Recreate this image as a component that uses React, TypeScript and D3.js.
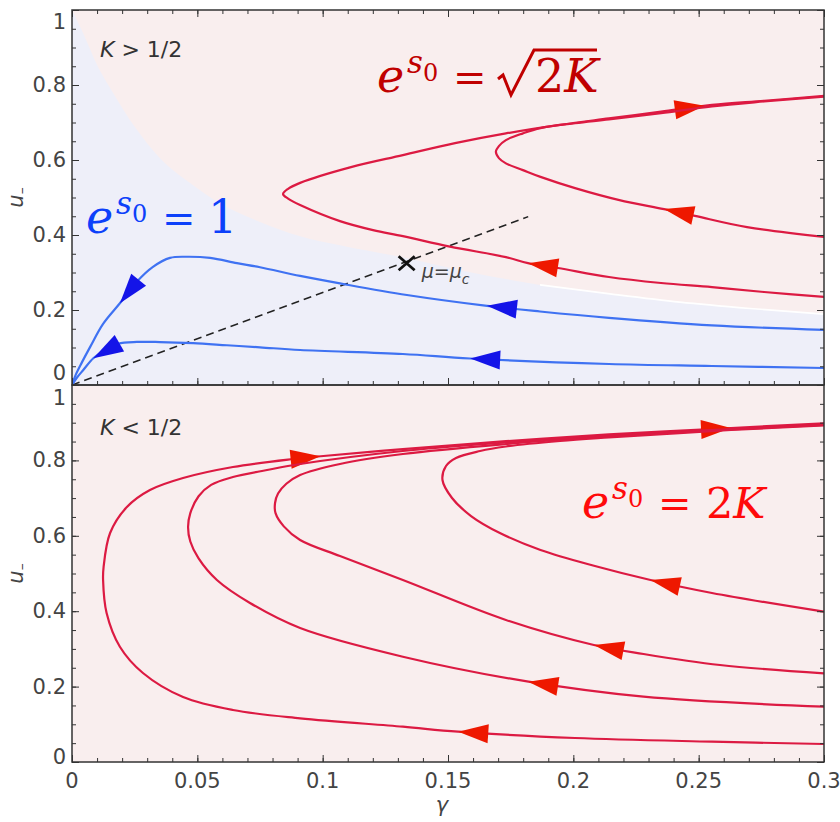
import React, { useRef, useEffect } from 'react';
import * as d3 from 'd3';

type Pt = [number, number];

// axis ticks
const xTicks = [0, 0.05, 0.1, 0.15, 0.2, 0.25, 0.3];
const xTickLabels = ['0', '0.05', '0.1', '0.15', '0.2', '0.25', '0.3'];
const yTicks = [0, 0.2, 0.4, 0.6, 0.8, 1];
const yTickLabels = ['0', '0.2', '0.4', '0.6', '0.8', '1'];

// top panel (K > 1/2): edge of the e^s0 = 1 region
const basinEdge: Pt[] = [
  [0, 1], [0.0044, 0.939], [0.0104, 0.848], [0.0164, 0.779], [0.0251, 0.688],
  [0.0351, 0.605], [0.0471, 0.539], [0.059, 0.485], [0.075, 0.435], [0.091, 0.397],
  [0.1069, 0.373], [0.1332, 0.339], [0.1588, 0.301], [0.1867, 0.267], [0.2146, 0.243],
  [0.2425, 0.221], [0.2705, 0.204], [0.3, 0.189],
];

// top panel flows (ordered along the flow)
const topRedOuter: Pt[] = [
  [0.3, 0.235], [0.2761, 0.248], [0.2553, 0.261], [0.235, 0.272], [0.2142, 0.288],
  [0.1939, 0.312], [0.1819, 0.325], [0.1731, 0.341], [0.1508, 0.369], [0.132, 0.397],
  [0.1201, 0.413], [0.1069, 0.437], [0.091, 0.48], [0.0862, 0.497], [0.0842, 0.509],
  [0.0862, 0.523], [0.091, 0.539], [0.1113, 0.581], [0.132, 0.613], [0.1528, 0.645],
  [0.1731, 0.671], [0.1939, 0.693], [0.2142, 0.711], [0.235, 0.729], [0.2553, 0.747],
  [0.2761, 0.758], [0.3, 0.771],
];
const topRedInner: Pt[] = [
  [0.3, 0.395], [0.2693, 0.421], [0.2485, 0.451], [0.2362, 0.469], [0.2184, 0.493],
  [0.2007, 0.525], [0.1869, 0.555], [0.1799, 0.573], [0.1731, 0.591], [0.1703, 0.605],
  [0.1691, 0.622], [0.1703, 0.637], [0.1731, 0.653], [0.1799, 0.671], [0.1869, 0.685],
  [0.2007, 0.698], [0.2142, 0.708], [0.235, 0.725], [0.2553, 0.743], [0.2761, 0.756],
  [0.3, 0.769],
];
const topBlueUpper: Pt[] = [
  [0.3, 0.147], [0.2553, 0.159], [0.2142, 0.179], [0.1867, 0.196], [0.1656, 0.211],
  [0.1336, 0.24], [0.1069, 0.271], [0.091, 0.291], [0.075, 0.314], [0.0658, 0.325],
  [0.0551, 0.339], [0.0459, 0.342], [0.0391, 0.339], [0.0323, 0.315], [0.0258, 0.275],
  [0.0191, 0.218], [0.0124, 0.163], [0.0072, 0.101], [0.004, 0.061], [0.0016, 0.029],
  [0, 0],
];
const topBlueLower: Pt[] = [
  [0.3, 0.0453], [0.2553, 0.0507], [0.2142, 0.056], [0.1588, 0.0707], [0.132, 0.0827],
  [0.091, 0.0933], [0.075, 0.1005], [0.0618, 0.106], [0.0483, 0.1115], [0.0351, 0.1145],
  [0.0259, 0.1148], [0.0184, 0.11], [0.0132, 0.0933], [0.0085, 0.0712], [0.0045, 0.04],
  [0.002, 0.02], [0, 0],
];
const separatrix: Pt[] = [[0, 0], [0.182, 0.449]];
const criticalPoint: Pt = [0.1335, 0.3245];

// bottom panel (K < 1/2)
const botRed1: Pt[] = [
  [0.3, 0.0477], [0.2553, 0.0539], [0.2007, 0.0637], [0.154, 0.0804], [0.132, 0.0936],
  [0.091, 0.1159], [0.0642, 0.1379], [0.0443, 0.1724], [0.0283, 0.2361], [0.0191, 0.3058],
  [0.0138, 0.3952], [0.0124, 0.4828], [0.0126, 0.5172], [0.0152, 0.6074], [0.0219, 0.6764],
  [0.0311, 0.7215], [0.0443, 0.7533], [0.0642, 0.7825], [0.0882, 0.8037], [0.0992, 0.811],
  [0.132, 0.83], [0.1731, 0.851], [0.2142, 0.869], [0.2629, 0.886], [0.3, 0.898],
];
const botRed2: Pt[] = [
  [0.3, 0.1467], [0.228, 0.1732], [0.1821, 0.213], [0.132, 0.2793], [0.091, 0.3554],
  [0.071, 0.4218], [0.0578, 0.4828], [0.0505, 0.54], [0.0472, 0.585], [0.0463, 0.6233],
  [0.0472, 0.66], [0.0505, 0.705], [0.0555, 0.735], [0.0642, 0.756], [0.0778, 0.7745],
  [0.091, 0.7905], [0.132, 0.825], [0.1731, 0.8475], [0.2142, 0.866], [0.2629, 0.8833],
  [0.3, 0.8952],
];
const botRed3: Pt[] = [
  [0.3, 0.2353], [0.2585, 0.2573], [0.228, 0.2865], [0.2082, 0.3103], [0.1731, 0.3767],
  [0.132, 0.4828], [0.1069, 0.5464], [0.091, 0.5889], [0.0845, 0.625], [0.0812, 0.66],
  [0.081, 0.687], [0.0822, 0.712], [0.0855, 0.738], [0.091, 0.7613], [0.1069, 0.7905],
  [0.132, 0.817], [0.1731, 0.8435], [0.2142, 0.8634], [0.2629, 0.882], [0.3, 0.8939],
];
const botRed4: Pt[] = [
  [0.3, 0.3987], [0.2553, 0.4483], [0.2308, 0.4828], [0.2086, 0.5199], [0.1869, 0.5623],
  [0.1707, 0.6074], [0.1592, 0.6525], [0.1516, 0.7003], [0.1478, 0.748], [0.1492, 0.7851],
  [0.1532, 0.8064], [0.1628, 0.8249], [0.1731, 0.8369], [0.1947, 0.8515], [0.2142, 0.8607],
  [0.2629, 0.8806], [0.3, 0.8926],
];

// arrow tips, per curve
const topRedOuterArrows: Pt[] = [[0.2525, 0.744], [0.1819, 0.325]];
const topRedInnerArrows: Pt[] = [[0.2362, 0.469]];
const topBlueUpperArrows: Pt[] = [[0.1656, 0.211], [0.0191, 0.218]];
const topBlueLowerArrows: Pt[] = [[0.1588, 0.0707], [0.0085, 0.0712]];
const botRed1Arrows: Pt[] = [[0.154, 0.0804], [0.0992, 0.811], [0.2629, 0.886]];
const botRed2Arrows: Pt[] = [[0.1821, 0.213]];
const botRed3Arrows: Pt[] = [[0.2082, 0.3103]];
const botRed4Arrows: Pt[] = [[0.2308, 0.4828]];

const redLine = '#dc1a42';
const redHead = '#ee1800';
const blueLine = '#3f72f2';
const blueHead = '#1414e8';
const pink = '#f9eeee';
const lavender = '#eeeff9';
const ink = '#333';
const sans = "'DejaVu Sans', sans-serif";
const serif = "'DejaVu Serif', serif";

const App = () => {
  const svgRef = useRef<SVGSVGElement>(null);

  useEffect(() => {
    const svg = d3.select(svgRef.current);
    svg.selectAll('*').remove();

    const left = 72, right = 824;
    const x = d3.scaleLinear().domain([0, 0.3]).range([left, right]);
    const yTop = d3.scaleLinear().domain([0, 1]).range([385, 10]);
    const yBot = d3.scaleLinear().domain([0, 1]).range([762, 385]);

    const defs = svg.append('defs');
    defs.append('clipPath').attr('id', 'clip-top').append('rect')
      .attr('x', left).attr('y', 10).attr('width', right - left).attr('height', 375);
    defs.append('clipPath').attr('id', 'clip-bot').append('rect')
      .attr('x', left).attr('y', 385).attr('width', right - left).attr('height', 377);

    // backgrounds
    svg.append('rect').attr('x', left).attr('y', 10).attr('width', right - left).attr('height', 375).attr('fill', pink);
    svg.append('rect').attr('x', left).attr('y', 385).attr('width', right - left).attr('height', 377).attr('fill', pink);

    const topG = svg.append('g').attr('clip-path', 'url(#clip-top)');
    const botG = svg.append('g').attr('clip-path', 'url(#clip-bot)');

    const basin = d3.area<Pt>().x(d => x(d[0])).y0(yTop(0)).y1(d => yTop(d[1])).curve(d3.curveMonotoneX);
    topG.append('path').attr('d', basin(basinEdge)).attr('fill', lavender);
    const edgeLine = d3.line<Pt>().x(d => x(d[0])).y(d => yTop(d[1])).curve(d3.curveMonotoneX);
    topG.append('path').attr('d', edgeLine(basinEdge.filter(d => d[0] >= 0.18)))
      .attr('fill', 'none').attr('stroke', '#fff').attr('stroke-width', 1.6);

    // separatrix
    topG.append('path')
      .attr('d', d3.line<Pt>().x(d => x(d[0])).y(d => yTop(d[1]))(separatrix))
      .attr('stroke', '#222').attr('stroke-width', 1.5).attr('stroke-dasharray', '8,5').attr('fill', 'none');

    const arrowLen = 30, arrowHalf = 9.5;
    const drawCurve = (g: any, y: any, pts: Pt[], color: string, head: string, tips: Pt[]) => {
      const line = d3.line<Pt>().x(d => x(d[0])).y(d => y(d[1])).curve(d3.curveCatmullRom.alpha(0.5));
      const path = g.append('path').attr('d', line(pts)).attr('fill', 'none')
        .attr('stroke', color).attr('stroke-width', 2.2);
      const node = path.node() as SVGPathElement;
      const total = node.getTotalLength();
      tips.forEach(t => {
        const tx = x(t[0]), ty = y(t[1]);
        let best = 0, bestD = Infinity;
        for (let s = 0; s <= total; s += 0.5) {
          const p = node.getPointAtLength(s);
          const d = (p.x - tx) ** 2 + (p.y - ty) ** 2;
          if (d < bestD) { bestD = d; best = s; }
        }
        const tip = node.getPointAtLength(best);
        const back = node.getPointAtLength(Math.max(0, best - arrowLen));
        let dx = tip.x - back.x, dy = tip.y - back.y;
        const n = Math.hypot(dx, dy) || 1;
        dx /= n; dy /= n;
        const bx = tip.x - dx * arrowLen, by = tip.y - dy * arrowLen;
        const poly = [[tip.x, tip.y], [bx - dy * arrowHalf, by + dx * arrowHalf], [bx + dy * arrowHalf, by - dx * arrowHalf]];
        g.append('polygon').attr('points', poly.map(p => p.join(',')).join(' ')).attr('fill', head);
      });
    };

    drawCurve(topG, yTop, topBlueUpper, blueLine, blueHead, topBlueUpperArrows);
    drawCurve(topG, yTop, topBlueLower, blueLine, blueHead, topBlueLowerArrows);
    drawCurve(topG, yTop, topRedOuter, redLine, redHead, topRedOuterArrows);
    drawCurve(topG, yTop, topRedInner, redLine, redHead, topRedInnerArrows);

    drawCurve(botG, yBot, botRed1, redLine, redHead, botRed1Arrows);
    drawCurve(botG, yBot, botRed2, redLine, redHead, botRed2Arrows);
    drawCurve(botG, yBot, botRed3, redLine, redHead, botRed3Arrows);
    drawCurve(botG, yBot, botRed4, redLine, redHead, botRed4Arrows);

    // critical point marker
    const cx = x(criticalPoint[0]), cy = yTop(criticalPoint[1]);
    topG.append('path').attr('d', `M${cx - 8},${cy - 7}L${cx + 8},${cy + 7}M${cx - 8},${cy + 7}L${cx + 8},${cy - 7}`)
      .attr('stroke', '#111').attr('stroke-width', 2.8);
    const mu = svg.append('text').attr('x', cx + 15).attr('y', cy + 15)
      .attr('font-family', sans).attr('font-size', 19).attr('fill', '#444');
    mu.append('tspan').attr('font-style', 'italic').text('μ');
    mu.append('tspan').text('=');
    mu.append('tspan').attr('font-style', 'italic').text('μ');
    mu.append('tspan').attr('font-style', 'italic').attr('font-size', 14).attr('dy', 6).text('c');

    // ticks
    const tickStyle = (g: any) => {
      g.select('.domain').remove();
      g.selectAll('text').remove();
      g.selectAll('line').attr('stroke', ink).attr('stroke-width', 1);
    };
    const xMinor = d3.range(0, 0.3001, 0.01);
    const yMinor = d3.range(0, 1.0001, 0.05);
    const addTicks = (yScale: any, top: number, bottom: number, withTop: boolean) => {
      [[xTicks, 7], [xMinor, 4]].forEach(([vals, len]: any) => {
        svg.append('g').attr('transform', `translate(0,${bottom})`)
          .call(d3.axisBottom(x).tickValues(vals).tickSize(-len).tickSizeOuter(0)).call(tickStyle);
        if (withTop) {
          svg.append('g').attr('transform', `translate(0,${top})`)
            .call(d3.axisTop(x).tickValues(vals).tickSize(-len).tickSizeOuter(0)).call(tickStyle);
        }
      });
      [[yTicks, 7], [yMinor, 4]].forEach(([vals, len]: any) => {
        svg.append('g').attr('transform', `translate(${left},0)`)
          .call(d3.axisLeft(yScale).tickValues(vals).tickSize(-len).tickSizeOuter(0)).call(tickStyle);
        svg.append('g').attr('transform', `translate(${right},0)`)
          .call(d3.axisRight(yScale).tickValues(vals).tickSize(-len).tickSizeOuter(0)).call(tickStyle);
      });
    };
    addTicks(yTop, 10, 385, true);
    addTicks(yBot, 385, 762, false);

    // frames
    svg.append('rect').attr('x', left).attr('y', 10).attr('width', right - left).attr('height', 375)
      .attr('fill', 'none').attr('stroke', ink).attr('stroke-width', 1.5);
    svg.append('rect').attr('x', left).attr('y', 385).attr('width', right - left).attr('height', 377)
      .attr('fill', 'none').attr('stroke', ink).attr('stroke-width', 1.5);

    // tick labels
    const labelY = (yScale: any, lo: number, hi: number) => (v: number) => Math.max(lo, Math.min(hi, yScale(v)));
    const yPosTop = labelY(yTop, 22, 373);
    const yPosBot = labelY(yBot, 398, 757);
    yTicks.forEach((v, i) => {
      [yPosTop, yPosBot].forEach(pos => {
        svg.append('text').attr('x', 66).attr('y', pos(v)).attr('dominant-baseline', 'central')
          .attr('text-anchor', 'end').attr('font-family', sans).attr('font-size', 21).attr('fill', '#444')
          .text(yTickLabels[i]);
      });
    });
    xTicks.forEach((v, i) => {
      svg.append('text').attr('x', x(v)).attr('y', 781).attr('dominant-baseline', 'central')
        .attr('text-anchor', 'middle').attr('font-family', sans).attr('font-size', 21).attr('fill', '#444')
        .text(xTickLabels[i]);
    });

    // axis titles
    svg.append('text').attr('x', 442).attr('y', 812).attr('text-anchor', 'middle')
      .attr('font-family', sans).attr('font-style', 'italic').attr('font-size', 21).attr('fill', '#444').text('γ');
    [197.5, 573.5].forEach(cyl => {
      const t = svg.append('text').attr('transform', `translate(23,${cyl}) rotate(-90)`).attr('text-anchor', 'middle')
        .attr('font-family', sans).attr('font-size', 21).attr('fill', '#444');
      t.append('tspan').attr('font-style', 'italic').text('u');
      t.append('tspan').attr('font-size', 14).attr('dy', 3).text('–');
    });

    // panel labels
    [['>', 57], ['<', 435]].forEach(([sym, by]: any) => {
      const t = svg.append('text').attr('x', 100).attr('y', by).attr('font-family', sans)
        .attr('font-size', 22).attr('fill', '#333');
      t.append('tspan').attr('font-style', 'italic').text('K');
      t.append('tspan').text(` ${sym} 1/2`);
    });

    // e^{s0} labels
    const expLabel = (x0: number, base: number, color: string) => {
      svg.append('text').attr('x', x0).attr('y', base).attr('font-family', serif).attr('font-style', 'italic')
        .attr('font-size', 46).attr('fill', color).text('e');
      svg.append('text').attr('x', x0 + 30).attr('y', base - 19).attr('font-family', serif).attr('font-style', 'italic')
        .attr('font-size', 31).attr('fill', color).text('s');
      svg.append('text').attr('x', x0 + 46).attr('y', base - 11).attr('font-family', serif)
        .attr('font-size', 24).attr('fill', color).text('0');
      svg.append('text').attr('x', x0 + 76).attr('y', base - 1).attr('font-family', serif)
        .attr('font-size', 40).attr('fill', color).text('=');
    };
    const darkRed = '#c00000';
    expLabel(377, 92, darkRed);
    svg.append('path').attr('d', 'M498,79L503,75L511,95L534,50L597,50')
      .attr('fill', 'none').attr('stroke', darkRed).attr('stroke-width', 3).attr('stroke-linejoin', 'miter');
    const sq = svg.append('text').attr('x', 535).attr('y', 92).attr('font-family', serif).attr('font-size', 46).attr('fill', darkRed);
    sq.append('tspan').text('2');
    sq.append('tspan').attr('font-style', 'italic').text('K');

    const blue = '#0c40fa';
    expLabel(86, 233, blue);
    svg.append('text').attr('x', 208).attr('y', 233).attr('font-family', serif).attr('font-size', 46).attr('fill', blue).text('1');

    const brightRed = '#ff0a0a';
    expLabel(582, 518, brightRed);
    const tk = svg.append('text').attr('x', 706).attr('y', 518).attr('font-family', serif).attr('font-size', 43).attr('fill', brightRed);
    tk.append('tspan').text('2');
    tk.append('tspan').attr('font-style', 'italic').text('K');
  }, []);

  return (
    <svg ref={svgRef} width={840} height={822}
      style={{ position: 'absolute', left: 0, top: 0, background: '#fff' }} />
  );
};

export default App;
